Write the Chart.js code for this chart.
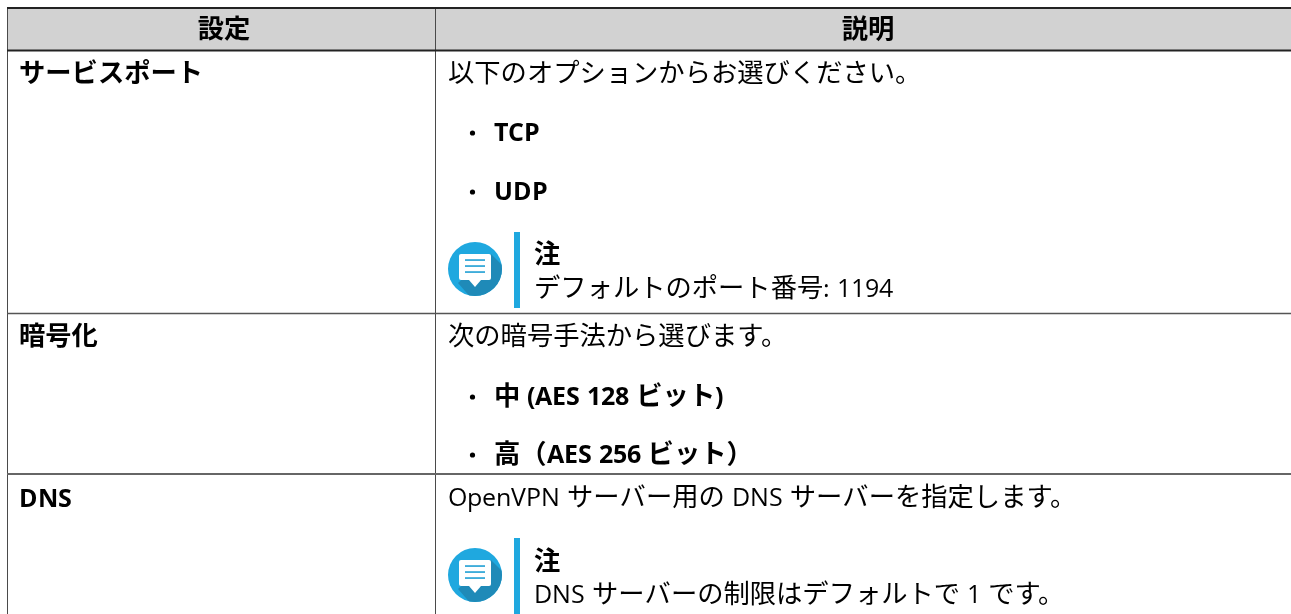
<!DOCTYPE html>
<html lang="ja">
<head>
<meta charset="utf-8">
<title>設定</title>
<script src="https://cdn.jsdelivr.net/npm/chart.js@4"></script>
<style>
html,body{margin:0;padding:0;background:#fff;overflow:hidden}canvas{display:block}
@font-face{font-family:"LatinTight";src:local("Open Sans");font-weight:400;size-adjust:95%}
@font-face{font-family:"LatinTight";src:local("Open Sans Bold");font-weight:700;size-adjust:95%}
</style>
</head>
<body>
<canvas id="c" width="1291" height="614"></canvas>
<script>
const headers = ["設定", "説明"];
const settings = ["サービスポート", "暗号化", "DNS"];
const bodyLines = ["以下のオプションからお選びください。", "次の暗号手法から選びます。", "OpenVPN サーバー用の DNS サーバーを指定します。"];
const bulletLines = ["TCP", "UDP", "中 (AES 128 ビット)", "高（AES 256 ビット）"];
const noteTitle = "注";
const noteLines = ["デフォルトのポート番号: 1194", "DNS サーバーの制限はデフォルトで 1 です。"];

const FONT = '"LatinTight","Noto Sans CJK JP",sans-serif';
const BODY_PX = 26.3;

const tablePlugin = {
  id: 'table',
  afterDraw(chart) {
    const ctx = chart.ctx, sx = chart.scales.x, sy = chart.scales.y;
    const X = v => sx.getPixelForValue(v), Y = v => sy.getPixelForValue(v);
    const text = (s, x, y, bold, align) => {
      ctx.font = (bold ? '700 ' : '400 ') + BODY_PX + 'px ' + FONT;
      ctx.fillStyle = '#000';
      ctx.textAlign = align || 'left';
      ctx.textBaseline = 'alphabetic';
      ctx.fillText(s, X(x), Y(y));
    };
    const hline = (y, col, w) => { ctx.strokeStyle = col; ctx.lineWidth = w; ctx.beginPath(); ctx.moveTo(X(7), Y(y)); ctx.lineTo(X(1291), Y(y)); ctx.stroke(); };
    const vline = (x, y0, y1) => { ctx.strokeStyle = '#4a4a4a'; ctx.lineWidth = 1; ctx.beginPath(); ctx.moveTo(X(x), Y(y0)); ctx.lineTo(X(x), Y(y1)); ctx.stroke(); };

    ctx.save();
    ctx.fillStyle = '#d2d2d2';
    ctx.fillRect(X(7), Y(8), X(1291) - X(7), Y(50) - Y(8));
    vline(7.5, 8, 614);
    vline(435.5, 8, 614);
    hline(8, '#222', 2);
    hline(50.5, '#222', 2);
    hline(313.5, '#555', 1.5);
    hline(474, '#666', 2);

    text(headers[0], 224, 38, true, 'center');
    text(headers[1], 868, 38, true, 'center');

    text(settings[0], 19, 82, true);
    text(settings[1], 19, 345, true);
    text(settings[2], 19, 507, true);

    text(bodyLines[0], 448, 82, false);
    text(bodyLines[1], 448, 345, false);
    text(bodyLines[2], 448, 506, false);

    const bullet = (y) => { ctx.fillStyle = '#000'; ctx.beginPath(); ctx.arc(X(472.5), Y(y), 2.6, 0, Math.PI * 2); ctx.fill(); };
    const bulletRows = [141, 200, 405, 463];
    bulletRows.forEach((b, i) => { bullet(b - 8); text(bulletLines[i], 494, b, true); });

    const icon = (cx, cy) => {
      const x = X(cx), y = Y(cy), r = 27;
      ctx.save();
      ctx.beginPath(); ctx.arc(x, y, r, 0, Math.PI * 2); ctx.fillStyle = '#1fa8df'; ctx.fill(); ctx.clip();
      ctx.fillStyle = '#1f8ab8';
      ctx.beginPath();
      ctx.moveTo(x + 16, y - 15); ctx.lineTo(x + 30, y - 1); ctx.lineTo(x + 30, y + 30); ctx.lineTo(x - 3, y + 30); ctx.lineTo(x - 17, y + 14); ctx.closePath(); ctx.fill();
      ctx.restore();
      ctx.fillStyle = '#fff';
      ctx.beginPath();
      ctx.roundRect(x - 16, y - 15, 32, 26, 2); ctx.fill();
      ctx.beginPath(); ctx.moveTo(x - 6, y + 11); ctx.lineTo(x, y + 18); ctx.lineTo(x + 6, y + 11); ctx.closePath(); ctx.fill();
      ctx.fillStyle = '#1f9fd4';
      [-9, -3, 3].forEach(d => ctx.fillRect(x - 10, y + d - 0.75, 20, 1.6));
    };
    const note = (cy, top, bottom, titleY, lineY, s) => {
      icon(475, cy);
      ctx.fillStyle = '#1fa8df';
      ctx.fillRect(X(514), Y(top), 6, Y(bottom) - Y(top));
      text(noteTitle, 534, titleY, true);
      text(s, 534, lineY, false);
    };
    note(269, 232, 308, 263, 297, noteLines[0]);
    note(575, 538, 614, 570, 603, noteLines[1]);
    ctx.restore();
  }
};

function build() {
  new Chart(document.getElementById('c'), {
    type: 'scatter',
    data: { datasets: [{ data: [] }] },
    options: {
      responsive: false, animation: false, events: [],
      layout: { padding: 0 },
      plugins: { legend: { display: false }, tooltip: { enabled: false } },
      scales: {
        x: { type: 'linear', min: 0, max: 1291, display: false },
        y: { type: 'linear', min: 0, max: 614, reverse: true, display: false }
      }
    },
    plugins: [tablePlugin]
  });
}
Promise.all([
  document.fonts.load('400 26px "LatinTight"', 'A'),
  document.fonts.load('700 26px "LatinTight"', 'A')
]).then(build, build);
</script>
</body>
</html>
